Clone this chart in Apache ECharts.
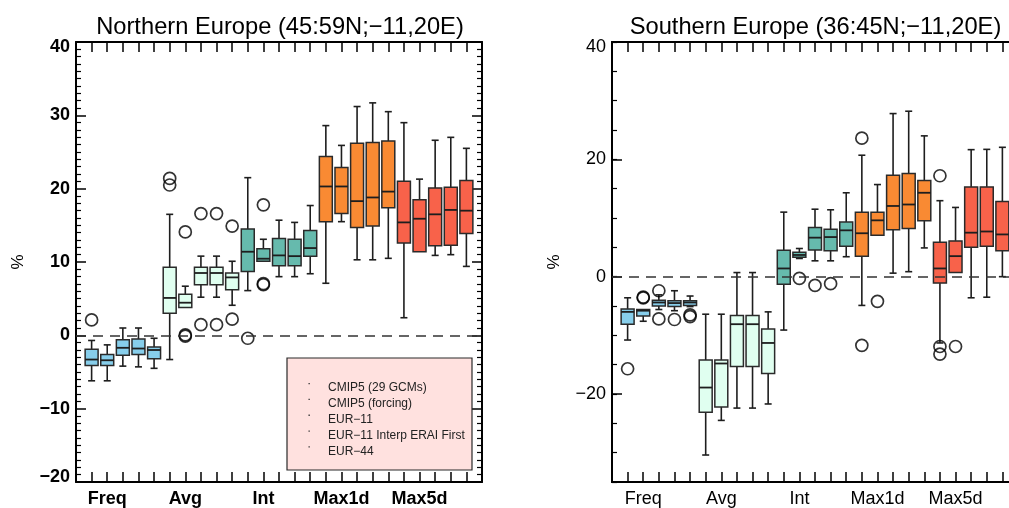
<!DOCTYPE html>
<html><head><meta charset="utf-8">
<script src="https://cdn.jsdelivr.net/npm/echarts@6/dist/echarts.min.js"></script>
<style>html,body{margin:0;padding:0;background:#fff}#c{width:1009px;height:508px}</style>
</head><body><div id="c"></div>
<script>
// ---- tick labels / names ----
const groupLabels = ['Freq', 'Avg', 'Int', 'Max1d', 'Max5d'];
const groupLabelPos = [2, 7, 12, 17, 22];
const legendNames = ['CMIP5 (29 GCMs)', 'CMIP5 (forcing)', 'EUR\u221211', 'EUR\u221211 Interp ERAI First', 'EUR\u221244'];
const titles = ['Northern Europe (45:59N;\u221211,20E)', 'Southern Europe (36:45N;\u221211,20E)'];

// ---- Northern Europe: [lowWhisker, Q1, median, Q3, highWhisker] ----
const nFreq = [[-6.2,-4.1,-3.3,-1.9,-0.7],[-6.2,-4.1,-3.4,-2.6,-1.3],[-4.2,-2.7,-1.7,-0.6,1.0],[-4.3,-2.6,-1.8,-0.5,1.0],[-4.5,-3.2,-2.0,-1.6,-0.4]];
const nAvg  = [[-3.3,3.0,5.1,9.3,16.5],[3.8,3.8,4.45,5.6,6.7],[5.2,6.9,8.5,9.3,10.8],[5.2,6.9,8.5,9.3,10.8],[4.1,6.2,7.9,8.5,10.1]];
const nInt  = [[6.1,8.7,11.4,14.5,21.5],[10.1,10.1,10.45,11.8,13.1],[8.0,9.5,10.9,13.2,15.7],[8.0,9.5,10.8,13.1,15.4],[8.4,10.8,11.9,14.3,17.7]];
const nMax1d = [[7.1,15.5,20.3,24.4,28.6],[15.5,16.6,20.3,22.9,25.9],[10.3,14.7,18.3,26.2,31.2],[10.3,14.9,18.8,26.3,31.7],[10.5,17.4,19.6,26.5,30.5]];
const nMax5d = [[2.4,12.6,15.4,21.0,29.0],[11.4,11.4,15.9,18.5,21.3],[10.9,12.2,16.5,20.1,26.6],[11.0,12.3,17.1,20.2,27.0],[9.4,13.9,17.0,21.1,25.5]];
const nOutliers = [[1,2.1],[6,21.4],[6,20.5],[7,14.1],[7,0.05],[7,-0.1],[8,16.6],[8,1.45],[9,16.6],[9,1.45],[10,14.9],[10,2.2],[11,-0.4],[12,17.8],[12,7.05],[12,6.9]];

// ---- Southern Europe ----
const sFreq = [[-10.8,-8.1,-6.0,-5.5,-3.6],[-7.6,-6.7,-5.8,-5.6,-5.6],[-5.6,-5.0,-4.4,-4.0,-3.1],[-5.8,-5.1,-4.5,-4.1,-2.4],[-5.1,-4.9,-4.4,-4.1,-3.3]];
const sAvg  = [[-30.4,-23.1,-18.9,-14.2,-6.4],[-24.5,-22.2,-14.8,-14.2,-6.4],[-22.4,-15.3,-8.1,-6.6,0.7],[-22.4,-15.3,-8.1,-6.6,0.7],[-21.7,-16.5,-11.3,-8.9,-6.0]];
const sInt  = [[-9.1,-1.3,1.4,4.5,11.0],[3.1,3.3,3.7,4.15,4.8],[2.7,4.55,6.65,8.4,11.5],[2.7,4.4,6.75,8.1,11.4],[3.4,5.2,7.9,9.3,14.3]];
const sMax1d = [[-4.9,3.5,7.4,11.0,20.7],[7.05,7.05,9.6,11.0,15.7],[0.6,8.0,12.05,17.3,27.8],[0.85,8.2,12.3,17.6,28.2],[4.9,9.55,14.3,16.4,24.0]];
const sMax5d = [[-11.3,-1.1,1.4,5.85,12.95],[0.7,0.7,3.5,6.1,11.8],[-3.6,5.0,7.5,15.3,21.65],[-3.5,5.2,7.7,15.3,21.7],[0.0,4.4,7.2,12.8,22.05]];
const sOutliers = [[1,-15.7],[2,-3.6],[2,-3.5],[3,-2.4],[3,-7.2],[4,-7.3],[5,-6.5],[5,-6.8],[12,-0.3],[13,-1.5],[14,-1.2],[16,23.6],[16,-11.7],[17,-4.2],[21,17.2],[21,-11.9],[21,-13.2],[22,-11.9]];

const FONT = '"Liberation Sans", Arial, Helvetica, sans-serif';
const fills = ['#87CEEB', '#E0FFF0', '#66BAAD', '#F98A33', '#F8624A'];
const INK = '#1e1e1e';

function boxData(groups) {
  const out = [];
  groups.forEach((g, gi) => g.forEach((b, bi) => out.push([gi * 5 + bi + 1].concat(b, [gi]))));
  return out;
}

function renderBox(params, api) {
  const x = api.value(0);
  const lo = api.value(1), q1 = api.value(2), med = api.value(3), q3 = api.value(4), hi = api.value(5), gi = api.value(6);
  const unit = api.size([1, 0])[0];
  const bw = unit * 0.83, cw = 7;
  const yLo = api.coord([x, lo])[1], yQ1 = api.coord([x, q1])[1], yMed = api.coord([x, med])[1];
  const yQ3 = api.coord([x, q3])[1], yHi = api.coord([x, hi])[1];
  const cx = api.coord([x, q1])[0];
  const ls = { stroke: INK, lineWidth: 1.6 };
  const ch = [];
  if (hi > q3) {
    ch.push({ type: 'line', shape: { x1: cx, y1: yHi, x2: cx, y2: yQ3 }, style: ls });
    ch.push({ type: 'line', shape: { x1: cx - cw / 2, y1: yHi, x2: cx + cw / 2, y2: yHi }, style: ls });
  }
  if (lo < q1) {
    ch.push({ type: 'line', shape: { x1: cx, y1: yQ1, x2: cx, y2: yLo }, style: ls });
    ch.push({ type: 'line', shape: { x1: cx - cw / 2, y1: yLo, x2: cx + cw / 2, y2: yLo }, style: ls });
  }
  ch.push({ type: 'rect', shape: { x: cx - bw / 2, y: yQ3, width: bw, height: yQ1 - yQ3 },
    style: { fill: fills[gi], stroke: '#2a2a2a', lineWidth: 1.5 } });
  ch.push({ type: 'line', shape: { x1: cx - bw / 2, y1: yMed, x2: cx + bw / 2, y2: yMed },
    style: { stroke: INK, lineWidth: 1.8 } });
  return { type: 'group', children: ch };
}

function minus(v) { return String(v).replace('-', '\u2212'); }

function xAxes(gridIndex, bold) {
  const base = {
    type: 'value', gridIndex, min: 0, max: 26, interval: 1,
    axisLine: { show: true, onZero: false, lineStyle: { color: '#000', width: 2 } },
    axisTick: { show: true, inside: true, length: 10, lineStyle: { color: '#000', width: 1.5 } },
    splitLine: { show: false }
  };
  return [
    Object.assign({}, base, {
      position: 'bottom',
      axisLabel: {
        show: true, margin: 8, fontSize: 18, fontFamily: FONT, color: '#000', fontWeight: bold ? 'bold' : 'normal',
        showMinLabel: true, showMaxLabel: true,
        formatter: v => { const i = groupLabelPos.indexOf(Math.round(v)); return i >= 0 ? groupLabels[i] : ''; }
      }
    }),
    Object.assign({}, base, { position: 'top', axisLabel: { show: false } })
  ];
}

const northBoxes = boxData([nFreq, nAvg, nInt, nMax1d, nMax5d]);
const southBoxes = boxData([sFreq, sAvg, sInt, sMax1d, sMax5d]);

const yLeftBase = {
  type: 'value', gridIndex: 0, min: -20, max: 40, interval: 10,
  axisLine: { show: true, onZero: false, lineStyle: { color: '#000', width: 2 } },
  axisTick: { show: true, inside: true, length: 10, lineStyle: { color: '#000', width: 1.5 } },
  minorTick: { show: true, splitNumber: 10, length: 5, lineStyle: { color: '#000', width: 1.2 } },
  splitLine: { show: false }, minorSplitLine: { show: false }
};
const ySouthCommon = {
  type: 'value', gridIndex: 1, min: -35, max: 40,
  axisLine: { show: true, onZero: false, lineStyle: { color: '#000', width: 2 } },
  splitLine: { show: false }
};

const legendGraphics = [
  { type: 'rect', shape: { x: 287, y: 358, width: 185, height: 112 },
    style: { fill: '#FFE1DF', stroke: '#2a2a2a', lineWidth: 1.2 }, z: 10 }
];
legendNames.forEach((name, i) => {
  const yy = 388 + i * 15.8;
  legendGraphics.push({ type: 'rect', shape: { x: 308.5, y: yy - 5, width: 1.3, height: 1.3 }, style: { fill: '#333' }, z: 11 });
  legendGraphics.push({ type: 'text', x: 328, y: yy, z: 11,
    style: { text: name, font: '12px ' + FONT, fill: '#222', textVerticalAlign: 'middle', textAlign: 'left' } });
});

const option = {
  backgroundColor: '#fff',
  animation: false,
  title: [
    { text: titles[0], left: 275, top: 10, textAlign: 'center',
      textStyle: { fontFamily: FONT, fontSize: 23.7, fontWeight: 'normal', color: '#000' } },
    { text: titles[1], left: 810.5, top: 10, textAlign: 'center',
      textStyle: { fontFamily: FONT, fontSize: 23.7, fontWeight: 'normal', color: '#000' } }
  ],
  grid: [
    { left: 76, top: 42, width: 406, height: 440, containLabel: false, outerBoundsMode: 'none' },
    { left: 612, top: 42, width: 406, height: 440, containLabel: false, outerBoundsMode: 'none' }
  ],
  xAxis: xAxes(0, true).concat(xAxes(1, false)),
  yAxis: [
    Object.assign({}, yLeftBase, { position: 'left',
      axisLabel: { show: true, margin: 6, fontSize: 18, lineHeight: 10, fontWeight: 'bold', fontFamily: FONT, color: '#000', formatter: minus,
        verticalAlignMaxLabel: 'top', verticalAlignMinLabel: 'bottom' } }),
    Object.assign({}, yLeftBase, { position: 'right', axisLabel: { show: false } }),
    Object.assign({}, ySouthCommon, { position: 'left', interval: 5,
      axisTick: { show: true, inside: true, length: 5, lineStyle: { color: '#000', width: 1.2 } },
      axisLabel: { show: false } }),
    Object.assign({}, ySouthCommon, { position: 'left',
      axisTick: { show: true, inside: true, length: 10, customValues: [-20, 0, 20, 40], lineStyle: { color: '#000', width: 1.5 } },
      axisLabel: { show: true, margin: 6, fontSize: 18, lineHeight: 10, fontFamily: FONT, color: '#000', customValues: [-20, 0, 20, 40], formatter: minus,
        verticalAlignMaxLabel: 'top' } })
  ],
  series: [
    { type: 'custom', xAxisIndex: 0, yAxisIndex: 0, renderItem: renderBox, data: northBoxes, clip: true,
      encode: { x: 0, y: [1, 5] },
      markLine: { silent: true, symbol: 'none', label: { show: false }, z: 20,
        lineStyle: { color: '#333', width: 1.5, type: [10, 7] }, data: [{ yAxis: 0 }] } },
    { type: 'scatter', xAxisIndex: 0, yAxisIndex: 0, data: nOutliers, symbol: 'circle', symbolSize: 12,
      itemStyle: { color: 'rgba(0,0,0,0)', borderColor: '#000', borderWidth: 1.7 }, z: 5 },
    { type: 'custom', xAxisIndex: 2, yAxisIndex: 3, renderItem: renderBox, data: southBoxes, clip: true,
      encode: { x: 0, y: [1, 5] },
      markLine: { silent: true, symbol: 'none', label: { show: false }, z: 20,
        lineStyle: { color: '#333', width: 1.5, type: [10, 7] }, data: [{ yAxis: 0 }] } },
    { type: 'scatter', xAxisIndex: 2, yAxisIndex: 3, data: sOutliers, symbol: 'circle', symbolSize: 12,
      itemStyle: { color: 'rgba(0,0,0,0)', borderColor: '#000', borderWidth: 1.7 }, z: 5 }
  ],
  graphic: legendGraphics.concat([
    { type: 'text', x: 18, y: 262, rotation: Math.PI / 2,
      style: { text: '%', font: '17px ' + FONT, fill: '#000', textAlign: 'center', textVerticalAlign: 'middle' } },
    { type: 'text', x: 554, y: 262, rotation: Math.PI / 2,
      style: { text: '%', font: '17px ' + FONT, fill: '#000', textAlign: 'center', textVerticalAlign: 'middle' } }
  ])
};

const chart = echarts.init(document.getElementById('c'), null, { renderer: 'canvas' });
chart.setOption(option);
</script>
</body></html>
